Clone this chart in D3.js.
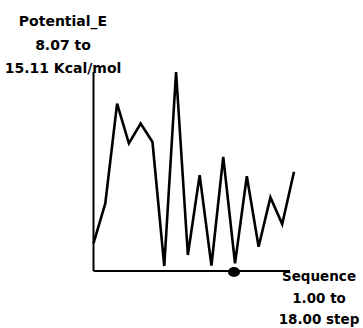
<!DOCTYPE html>
<html>
<head>
<meta charset="utf-8">
<script src="https://cdn.jsdelivr.net/npm/d3@7"></script>
<style>
  body { margin: 0; background: #fff; }
  text { font-family: "DejaVu Sans", sans-serif; font-weight: bold; fill: #000; }
</style>
</head>
<body>
<svg id="chart" width="363" height="328"></svg>
<script>
// sequence steps and potential energy values (Kcal/mol)
const sequence = d3.range(1, 19);
const energy = [8.89, 10.34, 13.96, 12.52, 13.24, 12.57, 8.07, 15.11, 8.47,
                11.37, 8.09, 12.03, 8.17, 11.33, 8.77, 10.56, 9.59, 11.49];
const yLabel = ['Potential_E', '8.07 to', '15.11 Kcal/mol'];
const xLabel = ['Sequence', '1.00 to', '18.00 step'];
const markerStep = 13;

const svg = d3.select('#chart');

const xScale = d3.scaleLinear().domain([1, 18]).range([93.5, 294]);
const yScale = d3.scaleLinear().domain([7.89, 15.11]).range([271, 72]);

// axes, drawn as plain lines
svg.append('line')
  .attr('x1', xScale(1)).attr('x2', xScale(1))
  .attr('y1', yScale(15.11)).attr('y2', yScale(7.89))
  .attr('stroke', '#000').attr('stroke-width', 2);

svg.append('line')
  .attr('x1', xScale(1)).attr('x2', 290)
  .attr('y1', yScale(7.89)).attr('y2', yScale(7.89))
  .attr('stroke', '#000').attr('stroke-width', 2);

const line = d3.line()
  .x((d, i) => xScale(sequence[i]))
  .y(d => yScale(d));

svg.append('path')
  .datum(energy)
  .attr('d', line)
  .attr('fill', 'none')
  .attr('stroke', '#000')
  .attr('stroke-width', 2.6)
  .attr('stroke-linejoin', 'miter');

svg.append('ellipse')
  .attr('cx', xScale(markerStep) - 1)
  .attr('cy', yScale(7.89) + 1)
  .attr('rx', 6).attr('ry', 5)
  .attr('fill', '#000');

svg.append('g')
  .selectAll('text')
  .data(yLabel)
  .join('text')
  .attr('x', 63)
  .attr('y', (d, i) => 26 + i * 23.5)
  .attr('text-anchor', 'middle')
  .style('font-size', '14px')
  .text(d => d);

svg.append('g')
  .selectAll('text')
  .data(xLabel)
  .join('text')
  .attr('x', 319)
  .attr('y', (d, i) => 281 + i * 21.5)
  .attr('text-anchor', 'middle')
  .style('font-size', '13.5px')
  .text(d => d);
</script>
</body>
</html>
